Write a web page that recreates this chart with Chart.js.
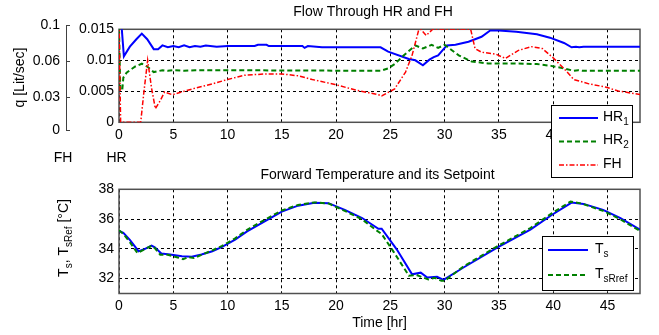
<!DOCTYPE html>
<html>
<head>
<meta charset="utf-8">
<script src="https://cdn.jsdelivr.net/npm/chart.js@4"></script>
<style>
  html, body { margin: 0; padding: 0; background: #fff; }
  #wrap { position: relative; width: 659px; height: 335px; }
  #wrap canvas { position: absolute; left: 0; top: 0; }
</style>
</head>
<body>
<div id="wrap">
  <canvas id="tempChart" width="659" height="335"></canvas>
  <canvas id="flowChart" width="659" height="335"></canvas>
  <canvas id="fhAxis" width="659" height="335"></canvas>
</div>
<script>
// ---- data ----
const timeTicks = [0, 5, 10, 15, 20, 25, 30, 35, 40, 45];
const hrTicks = [0, 0.005, 0.01, 0.015];
const fhTicks = [0, 0.031, 0.0655, 0.1];
const fhTickLabels = ['0', '0.03', '0.06', '0.1'];
const tempTicks = [32, 34, 36, 38];

const hr1Time = [0, 0.25, 0.45, 1.0, 1.6, 2.1, 2.6, 3.2, 3.6, 4.0, 4.5, 5.0, 5.5, 6.0, 6.5, 7.0, 7.5, 8.0, 9.0, 10.0,
  12.5, 12.8, 13.6, 13.8, 16.9, 17.1, 17.4, 18.7, 24.1, 24.8, 26.7, 27.3, 28.0, 28.6, 29.0, 29.4, 30.2, 31.0, 32.2,
  33.4, 34.2, 35.0, 36.6, 38.5, 39.7, 41.0, 41.7, 42.1, 42.4, 42.8, 48];
const hr1Flow = [0.0155, 0.0152, 0.01065, 0.0122, 0.0134, 0.0143, 0.0134, 0.0118, 0.0118, 0.0124, 0.0121, 0.0123,
  0.0121, 0.0124, 0.0121, 0.0123, 0.0122, 0.0124, 0.0122, 0.0123, 0.0123, 0.0125, 0.0125, 0.0123, 0.0123, 0.0120,
  0.0123, 0.0121, 0.0121, 0.0114, 0.0102, 0.0100, 0.0092, 0.0101, 0.0105, 0.0108, 0.0124, 0.0125, 0.0130, 0.0138,
  0.0148, 0.0148, 0.0146, 0.0142, 0.01365, 0.0128, 0.0121, 0.0122, 0.0121, 0.0122, 0.0122];

const hr2Time = [0, 0.12, 0.3, 0.4, 0.7, 1.0, 1.5, 2.1, 2.6, 3.2, 4.0, 4.5, 5.0, 6.0, 7.0, 8.0, 10.0, 24.1, 24.8,
  25.4, 26.3, 27.3, 28.0, 28.8, 29.4, 30.0, 31.3, 32.5, 34.0, 36.3, 38.5, 39.8, 41.0, 41.9, 42.3, 42.7, 48];
const hr2Flow = [0.0151, 0.0052, 0.0052, 0.0072, 0.0080, 0.0084, 0.0090, 0.00945, 0.0090, 0.0081, 0.0084, 0.0083,
  0.0084, 0.0083, 0.0084, 0.0084, 0.0084, 0.0083, 0.0087, 0.0094, 0.0109, 0.0124, 0.0119, 0.0125, 0.0120, 0.0125,
  0.0108, 0.0098, 0.0095, 0.0095, 0.0094, 0.0091, 0.0087, 0.0083, 0.0084, 0.0083, 0.0083];

const fhTime = [0, 0.15, 2.0, 2.3, 2.64, 3.0, 3.35, 3.8, 4.2, 4.9, 6.0, 7.0, 8.6, 10.0, 11.6, 13.5, 15.0, 16.5, 17.8,
  19.9, 21.8, 23.9, 24.2, 25.4, 26.4, 27.0, 27.6, 27.8, 28.3, 28.9, 32.4, 32.8, 33.4, 34.7, 35.6, 36.8, 38.0, 39.0,
  40.0, 41.0, 41.9, 43.3, 44.8, 46.0, 47.6, 48];
const fhFlow = [0.016, 0, 0, 0.005, 0.0100, 0.0055, 0.0022, 0.0035, 0.0049, 0.00445, 0.0050, 0.0055, 0.0062, 0.0069,
  0.0076, 0.0078, 0.0078, 0.0075, 0.0069, 0.0061, 0.0052, 0.00445, 0.00424, 0.0054, 0.0081, 0.0108, 0.0148, 0.0150,
  0.0140, 0.0150, 0.0150, 0.0119, 0.0113, 0.0110, 0.0103, 0.0116, 0.0122, 0.0119, 0.0104, 0.00865, 0.0069, 0.0062,
  0.0057, 0.00505, 0.0046, 0.0045];

const tsTime = [0, 0.4, 1.0, 1.8, 2.4, 3.0, 3.3, 3.9, 4.7, 5.8, 6.7, 7.6, 8.6, 9.5, 10.7, 11.8, 13.3, 15.0, 16.5, 18.0,
  19.3, 20.8, 22.4, 23.9, 24.2, 25.6, 27.0, 27.8, 28.4, 29.3, 29.9, 31.7, 34.8, 37.9, 39.9, 41.7, 42.8, 44.6, 46.2, 48];
const tsTemp = [35.2, 35.07, 34.6, 33.84, 34.0, 34.22, 34.1, 33.69, 33.62, 33.51, 33.47, 33.62, 33.84, 34.13, 34.62,
  35.17, 35.8, 36.5, 36.9, 37.1, 37.07, 36.62, 36.07, 35.35, 35.35, 33.95, 32.29, 32.4, 32.07, 32.13, 31.91, 32.73,
  34.07, 35.29, 36.29, 37.11, 37.02, 36.62, 36.07, 35.29];

const tsRefTime = [0, 0.4, 1.0, 1.7, 2.3, 3.0, 3.3, 3.8, 4.5, 5.0, 5.5, 5.9, 6.4, 6.9, 7.6, 8.6, 9.5, 10.7, 11.8, 13.3,
  15.0, 16.5, 18.0, 19.3, 20.8, 22.4, 23.7, 24.2, 25.3, 26.7, 27.4, 27.9, 28.5, 29.1, 29.7, 30.0, 31.7, 34.8, 37.9,
  39.9, 41.6, 42.6, 44.6, 46.2, 48];
const tsRefTemp = [35.25, 35.0, 34.45, 33.72, 33.95, 34.2, 34.05, 33.6, 33.6, 33.5, 33.4, 33.3, 33.45, 33.38, 33.6,
  33.9, 34.2, 34.7, 35.27, 35.9, 36.58, 36.95, 37.12, 37.05, 36.55, 35.98, 35.25, 35.0, 33.8, 32.2, 32.25, 32.1, 31.95,
  32.05, 31.85, 31.85, 32.8, 34.15, 35.4, 36.4, 37.17, 37.05, 36.55, 35.98, 35.2];

// ---- helpers ----
const FONT = "'Liberation Sans', Arial, sans-serif";
Chart.defaults.font.family = FONT;
Chart.defaults.font.size = 14;
Chart.defaults.color = '#000';

function pts(xs, ys) {
  return xs.map((x, i) => ({ x: x, y: ys[i] }));
}
function setTicks(list) {
  return function (scale) { scale.ticks = list.map(v => ({ value: v })); };
}

// draw a row of text pieces, some as subscripts
function drawParts(ctx, parts, x, y, align) {
  const widths = parts.map(p => {
    ctx.font = (p.sub ? 10 : 14) + 'px ' + FONT;
    return ctx.measureText(p.t).width;
  });
  const total = widths.reduce((a, b) => a + b, 0);
  let cx = align === 'center' ? x - total / 2 : x;
  ctx.textAlign = 'left';
  ctx.textBaseline = 'middle';
  parts.forEach((p, i) => {
    ctx.font = (p.sub ? 10 : 14) + 'px ' + FONT;
    ctx.fillText(p.t, cx, p.sub ? y + 5 : y);
    cx += widths[i];
  });
}

const annotate = {
  id: 'annotate',
  beforeDatasetsDraw(chart, args, opts) {
    const a = chart.chartArea;
    const ctx = chart.ctx;
    ctx.save();
    ctx.strokeStyle = '#505050';
    ctx.lineWidth = 1.5;
    ctx.strokeRect(a.left, a.top, a.right - a.left, a.bottom - a.top);
    ctx.restore();
  },
  afterDraw(chart, args, opts) {
    const ctx = chart.ctx;
    ctx.save();
    ctx.fillStyle = '#000';
    (opts.texts || []).forEach(t => {
      ctx.save();
      ctx.translate(t.x, t.y);
      if (t.rotate) ctx.rotate(t.rotate);
      drawParts(ctx, t.parts, 0, 0, 'center');
      ctx.restore();
    });
    const lg = opts.legend;
    if (lg) {
      ctx.fillStyle = '#fff';
      ctx.fillRect(lg.x, lg.y, lg.w, lg.h);
      ctx.strokeStyle = '#000';
      ctx.lineWidth = 1;
      ctx.setLineDash([]);
      ctx.strokeRect(lg.x + 0.5, lg.y + 0.5, lg.w, lg.h);
      lg.items.forEach((it, i) => {
        const ds = chart.data.datasets[it.dataset];
        const y = lg.y + lg.first + i * lg.step;
        ctx.strokeStyle = ds.borderColor;
        ctx.lineWidth = ds.borderWidth;
        ctx.setLineDash(ds.borderDash || []);
        ctx.beginPath();
        ctx.moveTo(lg.x + lg.lineFrom, y);
        ctx.lineTo(lg.x + lg.lineTo, y);
        ctx.stroke();
        ctx.setLineDash([]);
        ctx.fillStyle = '#000';
        drawParts(ctx, it.parts, lg.x + lg.textAt, y - 1, 'left');
      });
    }
    ctx.restore();
  }
};

const gridOpts = { color: '#000', lineWidth: 1, drawTicks: false };
const borderOpts = { display: false, dash: [3, 3] };

// ---- top: flow through HR and FH ----
new Chart(document.getElementById('flowChart'), {
  type: 'line',
  data: {
    datasets: [
      { label: 'FH', data: pts(fhTime, fhFlow), borderColor: 'rgb(255,0,0)', borderWidth: 1.5,
        borderDash: [5, 2, 1.5, 2], pointRadius: 0, tension: 0 },
      { label: 'HR2', data: pts(hr2Time, hr2Flow), borderColor: 'rgb(0,128,0)', borderWidth: 2,
        borderDash: [5, 3], pointRadius: 0, tension: 0 },
      { label: 'HR1', data: pts(hr1Time, hr1Flow), borderColor: 'rgb(0,0,255)', borderWidth: 2,
        pointRadius: 0, tension: 0 }
    ]
  },
  options: {
    responsive: false,
    animation: false,
    events: [],
    layout: { padding: { left: 0, right: 19, top: 29.3, bottom: 182.7 } },
    plugins: {
      legend: { display: false },
      tooltip: { enabled: false },
      annotate: {
        texts: [
          { x: 373, y: 12, parts: [{ t: 'Flow Through HR and FH' }] },
          { x: 63, y: 158, parts: [{ t: 'FH' }] },
          { x: 116.5, y: 158, parts: [{ t: 'HR' }] }
        ],
        legend: {
          x: 551, y: 105, w: 81, h: 72, first: 13, step: 23.5, lineFrom: 8, lineTo: 47, textAt: 52,
          items: [
            { dataset: 2, parts: [{ t: 'HR' }, { t: '1', sub: true }] },
            { dataset: 1, parts: [{ t: 'HR' }, { t: '2', sub: true }] },
            { dataset: 0, parts: [{ t: 'FH' }] }
          ]
        }
      }
    },
    scales: {
      x: {
        type: 'linear', min: 0, max: 48,
        afterBuildTicks: setTicks(timeTicks),
        afterFit: s => { s.height = 30; },
        ticks: { padding: 4, maxRotation: 0, autoSkip: false },
        grid: gridOpts, border: borderOpts
      },
      y: {
        min: 0, max: 0.015,
        afterBuildTicks: setTicks(hrTicks),
        afterFit: s => { s.width = 119; },
        ticks: { padding: 5, callback: v => String(v) },
        grid: gridOpts, border: borderOpts
      }
    }
  },
  plugins: [annotate]
});

// ---- separate FH axis on the far left ----
new Chart(document.getElementById('fhAxis'), {
  type: 'line',
  data: { datasets: [] },
  options: {
    responsive: false,
    animation: false,
    events: [],
    layout: { padding: { left: 0, right: 589, top: 25, bottom: 205 } },
    plugins: { legend: { display: false }, tooltip: { enabled: false } },
    scales: {
      x: { type: 'linear', min: 0, max: 1, display: false },
      y: {
        min: 0, max: 0.1,
        afterBuildTicks: setTicks(fhTicks),
        afterFit: s => { s.width = 66; },
        ticks: { padding: 6, callback: (v, i) => fhTickLabels[i] },
        grid: { color: '#404040', lineWidth: 1, drawTicks: false, drawOnChartArea: true },
        border: { display: true, color: '#404040', width: 1 },
        title: { display: true, text: 'q [Lit/sec]', padding: { top: 11.6, bottom: 0 } }
      }
    }
  }
});

// ---- bottom: forward temperature and setpoint ----
new Chart(document.getElementById('tempChart'), {
  type: 'line',
  data: {
    datasets: [
      { label: 'TsRref', data: pts(tsRefTime, tsRefTemp), borderColor: 'rgb(0,128,0)', borderWidth: 2,
        borderDash: [5, 3], pointRadius: 0, tension: 0 },
      { label: 'Ts', data: pts(tsTime, tsTemp), borderColor: 'rgb(0,0,255)', borderWidth: 2,
        pointRadius: 0, tension: 0 }
    ]
  },
  options: {
    responsive: false,
    animation: false,
    events: [],
    layout: { padding: { left: 0, right: 19, top: 189.3, bottom: 0 } },
    plugins: {
      legend: { display: false },
      tooltip: { enabled: false },
      annotate: {
        texts: [
          { x: 377.5, y: 175, parts: [{ t: 'Forward Temperature and its Setpoint' }] },
          { x: 64, y: 238, rotate: -Math.PI / 2,
            parts: [{ t: 'T' }, { t: 's', sub: true }, { t: ', T' }, { t: 'sRef', sub: true }, { t: ' [°C]' }] }
        ],
        legend: {
          x: 542, y: 236, w: 91, h: 54, first: 14, step: 25, lineFrom: 6, lineTo: 46, textAt: 53,
          items: [
            { dataset: 1, parts: [{ t: 'T' }, { t: 's', sub: true }] },
            { dataset: 0, parts: [{ t: 'T' }, { t: 'sRref', sub: true }] }
          ]
        }
      }
    },
    scales: {
      x: {
        type: 'linear', min: 0, max: 48,
        afterBuildTicks: setTicks(timeTicks),
        afterFit: s => { s.height = 41.5; },
        ticks: { padding: 4, maxRotation: 0, autoSkip: false },
        grid: gridOpts, border: borderOpts,
        title: { display: true, text: 'Time [hr]', padding: { top: 0, bottom: 3.6 } }
      },
      y: {
        min: 31, max: 38,
        afterBuildTicks: setTicks(tempTicks),
        afterFit: s => { s.width = 119; },
        ticks: { padding: 5 },
        grid: gridOpts, border: borderOpts
      }
    }
  },
  plugins: [annotate]
});
</script>
</body>
</html>
